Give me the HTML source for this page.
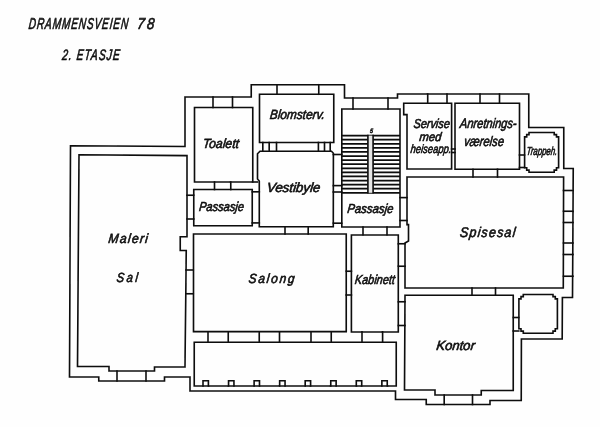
<!DOCTYPE html>
<html><head><meta charset="utf-8"><title>Drammensveien 78 - 2. etasje</title>
<style>
html,body{margin:0;padding:0;background:#fefefe;}
body{width:600px;height:427px;overflow:hidden;}
svg{display:block;}
.w path{fill:none;stroke:#0a0a0a;stroke-width:1.6;stroke-linejoin:miter;stroke-linecap:square;}
.w path.st{stroke-width:1.75;stroke-linecap:butt;}
.t text{font-family:"Liberation Sans",sans-serif;font-style:italic;fill:#0a0a0a;stroke:#0a0a0a;stroke-width:.6;}
</style></head><body>
<svg width="600" height="427" viewBox="0 0 600 427">
<rect width="600" height="427" fill="#fefefe"/>
<defs><filter id="soft" x="-2%" y="-2%" width="104%" height="104%"><feGaussianBlur stdDeviation="0.38"/></filter></defs>
<g filter="url(#soft)">
<g class="w">
<path d="M70.5 145.8 L185 146.5 L185 97 L251.25 97 L251.25 84.75 L344.5 84.75 L344.5 98 L397.5 98 L397.5 94 L528.75 94 L528.75 127.5 L563.75 127.5 L563.75 168.5 L573.25 168.5 L572.5 297.5 L562.4 297.5 L562.2 339 L521.4 339 L521.25 400.5 L490 400.5 L490 404.5 L426.25 404.5 L426.25 399.5 L395.5 399.5 L395.5 391 L190 391 L190 377 L164.5 377 L164.5 381 L98.75 381 L98.75 377 L69.5 377 Z"/>
<path d="M79 154.7 L187 155.6 L187 236.8 L180.25 236.8 L180.25 250.5 L186.25 250.5 L185 367 L154.5 367 L154.5 371 L109 371 L109 366.5 L77.5 366.5 Z"/>
<path d="M187 195.25 L193.75 195.25"/>
<path d="M187 219 L193.75 219"/>
<path d="M186 270 L193.25 270"/>
<path d="M186 293.75 L193.25 293.75"/>
<path d="M117 371 L117 381"/>
<path d="M146 371 L146 381"/>
<path d="M194.5 107.5 L252.75 107.5 L252.75 182 L194.5 182 Z"/>
<path d="M213 97 L213 107.5"/>
<path d="M232.5 97 L232.5 107.5"/>
<path d="M214.5 182 L214.5 189.5"/>
<path d="M230.75 182 L230.75 189.5"/>
<path d="M252.75 182 L257.5 182"/>
<path d="M193.75 189.5 L252.25 189.5 L252.25 225.75 L193.75 225.75 Z"/>
<path d="M252.25 191.8 L259.3 191.8"/>
<path d="M252.25 222.9 L259.3 222.9"/>
<path d="M259.5 94.25 L333.75 94.25 L333.75 142.5 L259.5 142.5 Z"/>
<path d="M277 84.75 L277 94.25"/>
<path d="M318.75 84.75 L318.75 94.25"/>
<path d="M262.8 142.5 L262.8 151.2"/>
<path d="M269.2 142.5 L269.2 151.2"/>
<path d="M276.5 142.5 L276.5 151.2"/>
<path d="M318.4 142.5 L318.4 151.2"/>
<path d="M324.5 142.5 L324.5 151.2"/>
<path d="M330.2 142.5 L330.2 151.2"/>
<path d="M260 151.2 L331.5 151.2 L333.4 153.2 L333.3 226.8 L259.3 226.8 L259.3 181 L257.5 179 L257.5 153.8 Z"/>
<path d="M333.3 154.5 L341.8 154.5"/>
<path d="M333.3 185.6 L341.8 185.6"/>
<path d="M333.3 192 L341.8 192"/>
<path d="M333.3 223.2 L341.8 223.2"/>
<path d="M285 226.8 L285 234"/>
<path d="M308.2 226.8 L308.2 234"/>
<path d="M341.8 109 L400 109 L400 227 L341.8 227 Z"/>
<path d="M353 98 L353 109"/>
<path d="M388 98 L388 109"/>
<path class="st" d="M341.8 135.6 L400 135.6"/>
<path class="st" d="M341.8 139.686 L367.8 139.686 M373.2 139.686 L400 139.686"/>
<path class="st" d="M341.8 143.771 L367.8 143.771 M373.2 143.771 L400 143.771"/>
<path class="st" d="M341.8 147.857 L367.8 147.857 M373.2 147.857 L400 147.857"/>
<path class="st" d="M341.8 151.943 L367.8 151.943 M373.2 151.943 L400 151.943"/>
<path class="st" d="M341.8 156.029 L367.8 156.029 M373.2 156.029 L400 156.029"/>
<path class="st" d="M341.8 160.114 L367.8 160.114 M373.2 160.114 L400 160.114"/>
<path class="st" d="M341.8 164.2 L367.8 164.2 M373.2 164.2 L400 164.2"/>
<path class="st" d="M341.8 168.286 L367.8 168.286 M373.2 168.286 L400 168.286"/>
<path class="st" d="M341.8 172.371 L367.8 172.371 M373.2 172.371 L400 172.371"/>
<path class="st" d="M341.8 176.457 L367.8 176.457 M373.2 176.457 L400 176.457"/>
<path class="st" d="M341.8 180.543 L367.8 180.543 M373.2 180.543 L400 180.543"/>
<path class="st" d="M341.8 184.629 L367.8 184.629 M373.2 184.629 L400 184.629"/>
<path class="st" d="M341.8 188.714 L367.8 188.714 M373.2 188.714 L400 188.714"/>
<path class="st" d="M341.8 192.8 L400 192.8"/>
<rect x="367.9" y="135.6" width="5.2" height="57.2" style="fill:#e6e6e6;stroke:none"/>
<path d="M367.9 135.6 L367.9 192.8"/>
<path d="M373.1 135.6 L373.1 192.8"/>
<path d="M363 227 L363 234.7"/>
<path d="M387 227 L387 234.7"/>
<path d="M400 197.6 L407 197.6"/>
<path d="M400 220.5 L407 220.5"/>
<path d="M403.7 103.2 L451.6 103.2 L451.6 169 L407 169 L407 114.6 L403.7 114.6 Z"/>
<path d="M427.7 94 L427.7 103.2"/>
<path d="M447 94 L447 103.2"/>
<path d="M455 103.2 L519.5 103.2 L519.5 169.2 L455 169.2 Z"/>
<path d="M480 94 L480 103.2"/>
<path d="M499.5 94 L499.5 103.2"/>
<path d="M451.6 149 L455 149"/>
<path d="M451.6 152.5 L455 152.5"/>
<path d="M473 169.2 L473 177"/>
<path d="M497.5 169.2 L497.5 177"/>
<path d="M519.5 155 L524.5 155"/>
<path d="M519.5 167.5 L524.5 167.5"/>
<path d="M529 132.5 L554.2 132.5 L554.2 134.6 L556.5 134.6 L556.5 136.9 L558.6 136.9 L558.6 167.8 L556.5 167.8 L556.5 170.1 L554.2 170.1 L554.2 172.2 L529 172.2 L529 170.1 L526.7 170.1 L526.7 167.8 L524.6 167.8 L524.6 136.9 L526.7 136.9 L526.7 134.6 L529 134.6 Z"/>
<path d="M407 177 L563.6 177 L563.3 288 L405 288 L405 243 L408.5 241 L408.5 224.6 L407 224.6 Z"/>
<path d="M563.5 190.5 L573 190.5"/>
<path d="M563.5 211.25 L573 211.25"/>
<path d="M563.5 222.5 L573 222.5"/>
<path d="M563.5 243 L573 243"/>
<path d="M563.5 254.5 L573 254.5"/>
<path d="M563.5 276.25 L573 276.25"/>
<path d="M472 288 L472 295.2"/>
<path d="M495.5 288 L495.5 295.2"/>
<path d="M193.5 234 L346.25 234 L346.25 331.6 L193.5 331.6 Z"/>
<path d="M346.25 271.25 L351.4 271.25"/>
<path d="M346.25 295 L351.4 295"/>
<path d="M351.4 235 L398.3 235 L398.3 332 L351.4 332 Z"/>
<path d="M398.3 243.75 L405 243.75"/>
<path d="M398.3 266.25 L405 266.25"/>
<path d="M398.3 301.75 L405 301.75"/>
<path d="M398.3 325.5 L405 325.5"/>
<path d="M208 331.8 L208 342.2"/>
<path d="M228.25 331.8 L228.25 342.2"/>
<path d="M259.25 331.8 L259.25 342.2"/>
<path d="M279.5 331.8 L279.5 342.2"/>
<path d="M311 331.8 L311 342.2"/>
<path d="M331.25 331.8 L331.25 342.2"/>
<path d="M362 331.8 L362 342.2"/>
<path d="M382.6 331.8 L382.6 342.2"/>
<path d="M194.25 342.2 L396.25 342.2 L396.25 386 L194.25 386 Z"/>
<path d="M203 386 L203 380.8 L208.4 380.8 L208.4 386"/>
<path d="M228.55 386 L228.55 380.8 L233.95 380.8 L233.95 386"/>
<path d="M254.1 386 L254.1 380.8 L259.5 380.8 L259.5 386"/>
<path d="M279.65 386 L279.65 380.8 L285.05 380.8 L285.05 386"/>
<path d="M305.2 386 L305.2 380.8 L310.6 380.8 L310.6 386"/>
<path d="M330.75 386 L330.75 380.8 L336.15 380.8 L336.15 386"/>
<path d="M356.3 386 L356.3 380.8 L361.7 380.8 L361.7 386"/>
<path d="M381.85 386 L381.85 380.8 L387.25 380.8 L387.25 386"/>
<path d="M405 295.2 L513.25 295.2 L513.25 390.5 L481.25 390.5 L481.25 395 L435 395 L435 390 L404.5 390 Z"/>
<path d="M444.2 395 L444.2 404.5"/>
<path d="M472.5 395 L472.5 404.5"/>
<path d="M513.25 317.5 L518.75 317.5"/>
<path d="M513.25 331 L518.75 331"/>
<path d="M523.3 294.5 L553 294.5 L553 296.6 L555.3 296.6 L555.3 298.9 L557.4 298.9 L557.4 328.8 L555.3 328.8 L555.3 331.1 L553 331.1 L553 333.2 L523.3 333.2 L523.3 331.1 L521 331.1 L521 328.8 L518.9 328.8 L518.9 298.9 L521 298.9 L521 296.6 L523.3 296.6 Z"/>
</g>
<g class="t">
<text transform="translate(28.3 29) skewX(-6) scale(0.64 1)" font-size="15.78" textLength="155.31" lengthAdjust="spacing" stroke-width="0.45">DRAMMENSVEIEN</text>
<text transform="translate(136.7 29) skewX(-6) scale(0.85 1)" font-size="15.78" textLength="20.35" lengthAdjust="spacing" stroke-width="0.45">78</text>
<text transform="translate(61.7 59.7) skewX(-6) scale(0.68 1)" font-size="15.08" textLength="84.71" lengthAdjust="spacing" stroke-width="0.45">2. ETASJE</text>
<text transform="translate(202.5 147.5) skewX(-6)" font-size="13.27" textLength="36.2" lengthAdjust="spacingAndGlyphs">Toalett</text>
<text transform="translate(269.5 118.7) skewX(-6)" font-size="13.27" textLength="55" lengthAdjust="spacingAndGlyphs">Blomsterv.</text>
<text transform="translate(266.5 191.8) skewX(-6)" font-size="13.27" textLength="53.5" lengthAdjust="spacingAndGlyphs">Vestibyle</text>
<text transform="translate(198.7 211.2) skewX(-6)" font-size="12.99" textLength="45" lengthAdjust="spacingAndGlyphs">Passasje</text>
<text transform="translate(347 212.5) skewX(-6)" font-size="12.99" textLength="46" lengthAdjust="spacingAndGlyphs">Passasje</text>
<text transform="translate(108 242.7) skewX(-6) scale(0.92 1)" font-size="13.27" textLength="42.93" lengthAdjust="spacing">Maleri</text>
<text transform="translate(116.2 282) skewX(-6) scale(0.85 1)" font-size="13.27" textLength="25.06" lengthAdjust="spacing">Sal</text>
<text transform="translate(248.2 283) skewX(-6) scale(0.9 1)" font-size="13.27" textLength="51.11" lengthAdjust="spacing">Salong</text>
<text transform="translate(354.5 283.7) skewX(-6)" font-size="12.99" textLength="40" lengthAdjust="spacingAndGlyphs">Kabinett</text>
<text transform="translate(459.5 237) skewX(-6) scale(0.9 1)" font-size="13.97" textLength="61.67" lengthAdjust="spacing">Spisesal</text>
<text transform="translate(436 349.7) skewX(-6)" font-size="13.27" textLength="38.5" lengthAdjust="spacingAndGlyphs">Kontor</text>
<text transform="translate(413.2 127.8) skewX(-6)" font-size="12.99" textLength="36.3" lengthAdjust="spacingAndGlyphs">Servise</text>
<text transform="translate(419 141) skewX(-6)" font-size="12.29" textLength="22" lengthAdjust="spacingAndGlyphs">med</text>
<text transform="translate(410.3 153.2) skewX(-6)" font-size="12.01" textLength="40.7" lengthAdjust="spacingAndGlyphs">heiseapp.</text>
<text transform="translate(459.5 128) skewX(-6)" font-size="13.69" textLength="56.7" lengthAdjust="spacingAndGlyphs">Anretnings-</text>
<text transform="translate(463.7 146.3) skewX(-6)" font-size="13.69" textLength="40" lengthAdjust="spacingAndGlyphs">værelse</text>
<text transform="translate(526.2 154.5) skewX(-6)" font-size="11.73" textLength="30.8" lengthAdjust="spacingAndGlyphs">Trappeh.</text>
<text transform="translate(369.7 133.2) skewX(-6)" font-size="6.28" textLength="3" lengthAdjust="spacingAndGlyphs" stroke-width="0">5</text>
</g>
</g>
</svg>
</body></html>
